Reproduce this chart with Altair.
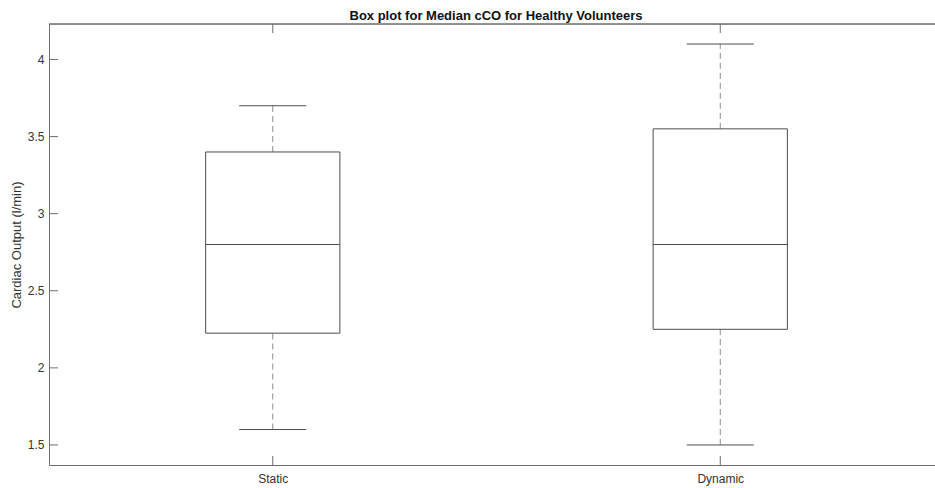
import altair as alt
import pandas as pd

# Box-plot summary statistics per condition (l/min)
groups = ["Static", "Dynamic"]
positions = [1, 2]
lower_whisker = [1.6, 1.5]
q1 = [2.225, 2.25]
median = [2.8, 2.8]
q3 = [3.4, 3.55]
upper_whisker = [3.7, 4.1]

y_ticks = [1.5, 2.0, 2.5, 3.0, 3.5, 4.0]

stats = pd.DataFrame({
    "group": groups,
    "pos": positions,
    "lo": lower_whisker,
    "q1": q1,
    "med": median,
    "q3": q3,
    "hi": upper_whisker,
})
yt = pd.DataFrame({"v": y_ticks})

W, H = 886, 441
FONT = "Liberation Sans"
BOX_COLOR = "#4d4d4d"
WHISKER_COLOR = "#8c8c8c"
AXIS_COLOR = "#6e6e6e"

xscale = alt.Scale(domain=[0.5, 0.5 + W / 447.5], nice=False, zero=False)
yscale = alt.Scale(domain=[1.37, 4.23], nice=False, zero=False)

label_expr = "datum.value == 1 ? 'Static' : datum.value == 2 ? 'Dynamic' : ''"

base = alt.Chart(stats).transform_calculate(
    box_l="datum.pos - 0.15",
    box_r="datum.pos + 0.15",
    cap_l="datum.pos - 0.075",
    cap_r="datum.pos + 0.075",
)

x_pos = alt.X(
    "pos:Q",
    scale=xscale,
    axis=alt.Axis(
        values=positions,
        labelExpr=label_expr,
        title=None,
        grid=False,
        ticks=False,
        domainColor=AXIS_COLOR,
        labelFont=FONT,
        labelFontSize=12,
        labelColor="#333333",
        labelPadding=8,
    ),
)

whisker_low = base.mark_rule(color=WHISKER_COLOR, strokeDash=[6, 4], strokeWidth=1).encode(
    x=x_pos,
    y=alt.Y(
        "lo:Q",
        scale=yscale,
        axis=alt.Axis(
            values=y_ticks,
            format="~g",
            title="Cardiac Output (l/min)",
            titleFont=FONT,
            titleFontSize=13,
            titleFontWeight="normal",
            titleColor="#333333",
            titlePadding=4,
            grid=False,
            ticks=False,
            domainColor=AXIS_COLOR,
            labelFont=FONT,
            labelFontSize=12,
            labelColor="#333333",
            labelPadding=5,
        ),
    ),
    y2="q1:Q",
)

whisker_high = base.mark_rule(color=WHISKER_COLOR, strokeDash=[6, 4], strokeWidth=1).encode(
    x=alt.X("pos:Q", scale=xscale),
    y=alt.Y("q3:Q", scale=yscale),
    y2="hi:Q",
)

cap_low = base.mark_rule(color=BOX_COLOR, strokeWidth=1).encode(
    x=alt.X("cap_l:Q", scale=xscale),
    x2="cap_r:Q",
    y=alt.Y("lo:Q", scale=yscale),
)

cap_high = base.mark_rule(color=BOX_COLOR, strokeWidth=1).encode(
    x=alt.X("cap_l:Q", scale=xscale),
    x2="cap_r:Q",
    y=alt.Y("hi:Q", scale=yscale),
)

boxes = base.mark_rect(fill="white", fillOpacity=0, stroke=BOX_COLOR, strokeWidth=1).encode(
    x=alt.X("box_l:Q", scale=xscale),
    x2="box_r:Q",
    y=alt.Y("q1:Q", scale=yscale),
    y2="q3:Q",
)

medians = base.mark_rule(color=BOX_COLOR, strokeWidth=1).encode(
    x=alt.X("box_l:Q", scale=xscale),
    x2="box_r:Q",
    y=alt.Y("med:Q", scale=yscale),
)

# Inward-pointing tick marks on the left, bottom and top edges
y_tick_marks = alt.Chart(yt).mark_rule(color=AXIS_COLOR, strokeWidth=1).encode(
    y=alt.Y("v:Q", scale=yscale),
    x=alt.value(0),
    x2=alt.value(9),
)
x_tick_bottom = alt.Chart(stats).mark_rule(color=AXIS_COLOR, strokeWidth=1).encode(
    x=alt.X("pos:Q", scale=xscale),
    y=alt.value(H),
    y2=alt.value(H - 9),
)
x_tick_top = alt.Chart(stats).mark_rule(color=AXIS_COLOR, strokeWidth=1).encode(
    x=alt.X("pos:Q", scale=xscale),
    y=alt.value(0),
    y2=alt.value(9),
)
top_border = alt.Chart(stats).mark_rule(color=AXIS_COLOR, strokeWidth=1).encode(
    x=alt.value(0),
    x2=alt.value(W + 5),
    y=alt.value(0),
)

chart = alt.layer(
    whisker_low, whisker_high, cap_low, cap_high, boxes, medians,
    y_tick_marks, x_tick_bottom, x_tick_top, top_border,
).properties(
    width=W,
    height=H,
    title=alt.TitleParams(
        "Box plot for Median cCO for Healthy Volunteers",
        font=FONT,
        fontSize=13,
        fontWeight="bold",
        color="#111111",
        anchor="middle",
        dx=4,
        offset=1,
    ),
    autosize=alt.AutoSizeParams(type="none"),
    padding={"left": 49, "top": 24, "right": 0, "bottom": 23},
).configure_view(stroke=None).configure(background="white")

chart.save("out.html", embed_options={"renderer": "svg", "actions": False})
